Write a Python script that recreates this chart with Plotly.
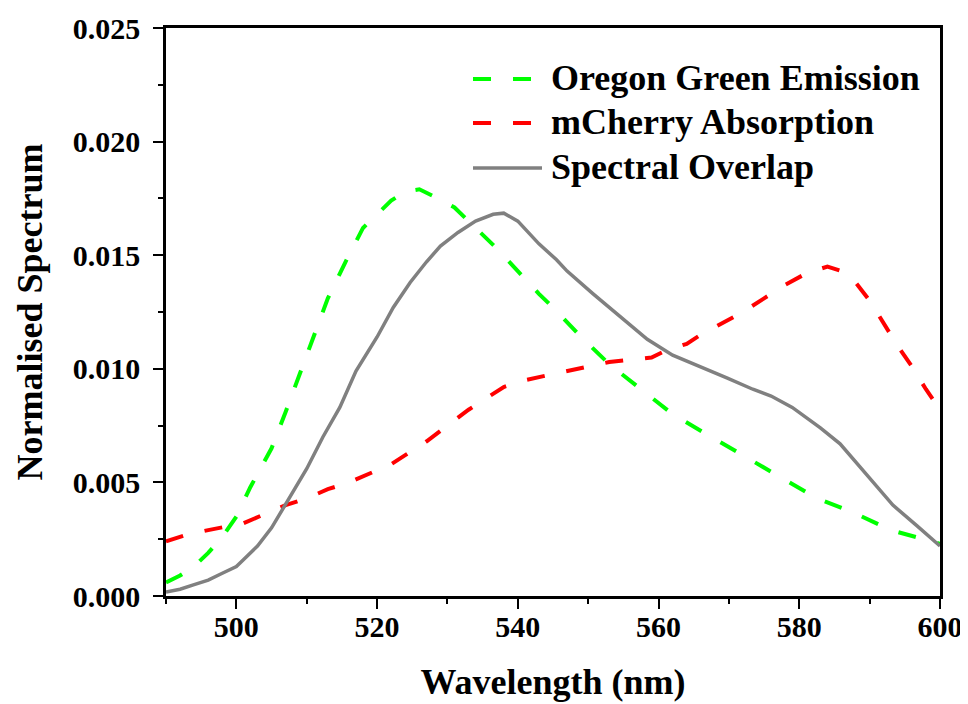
import plotly.graph_objects as go

# ---------------- data ----------------
green_wl = [490, 492, 494, 496, 498, 500, 502, 505, 507, 509, 511, 513, 515.5, 518, 520, 522, 524, 526,
            528, 531, 533, 535, 537, 540, 543, 545, 549, 553, 558, 562, 567.5, 572.5, 577.5, 582.5,
            587.5, 593, 600]
green_val = [0.0006, 0.0009, 0.0013, 0.0019, 0.0026, 0.0035, 0.0048, 0.0065, 0.0081, 0.0098, 0.0115,
             0.0131, 0.0147, 0.0162, 0.0168, 0.0174, 0.0178, 0.0179, 0.0176, 0.0171, 0.0165, 0.0159,
             0.0153, 0.0143, 0.0133, 0.0127, 0.0114, 0.0102, 0.0090, 0.0080, 0.0070, 0.0061, 0.0052,
             0.0043, 0.0037, 0.0029, 0.0023]

red_wl = [490, 493, 496, 499, 501, 504, 507, 510, 513, 516, 519, 522, 524, 527, 530, 533, 536, 538,
          541, 544, 547, 550, 553, 556, 559, 561, 564, 566, 569, 572, 575, 578, 581, 584, 586, 588,
          590, 592, 594, 596, 598, 600]
red_val = [0.0024, 0.0027, 0.0029, 0.0031, 0.0032, 0.0036, 0.0040, 0.0043, 0.0047, 0.0050, 0.0054,
           0.0058, 0.0062, 0.0068, 0.0075, 0.0082, 0.0088, 0.0092, 0.0095, 0.0097, 0.0099, 0.0101,
           0.0103, 0.0104, 0.0105, 0.0108, 0.0111, 0.0115, 0.0120, 0.0125, 0.0131, 0.0137, 0.0142,
           0.0145, 0.0143, 0.0138, 0.0130, 0.0120, 0.0110, 0.0101, 0.0091, 0.0082]

gray_wl = [490, 492, 494, 496, 498, 500, 501, 503, 505, 507.5, 510, 512.3, 514.7, 517, 520, 522.3,
           524.7, 527, 529, 531.5, 534, 536.5, 538, 540, 543, 545.5, 547, 550.7, 554.5, 558.4, 562,
           566, 569.7, 573.4, 576, 579, 583, 585.8, 588.6, 591, 593.3, 596.7, 600]
gray_val = [0.00018, 0.0003, 0.0005, 0.0007, 0.0010, 0.0013, 0.0016, 0.0022, 0.0030, 0.0043, 0.0056,
            0.0070, 0.0083, 0.0099, 0.0114, 0.0127, 0.0138, 0.0147, 0.0154, 0.0160, 0.0165, 0.0168,
            0.01685, 0.0165, 0.0155, 0.0148, 0.0143, 0.0133, 0.0123, 0.0113, 0.0106, 0.0101, 0.0096,
            0.0091, 0.0088, 0.0083, 0.0074, 0.0067, 0.0057, 0.0048, 0.0040, 0.0031, 0.0022]

series_names = ["Oregon Green Emission", "mCherry Absorption", "Spectral Overlap"]
x_ticks = [500, 520, 540, 560, 580, 600]
y_ticks = [0.000, 0.005, 0.010, 0.015, 0.020, 0.025]

# ---------------- figure ----------------
FONT = "Liberation Serif, Times New Roman, serif"
GREEN, RED, GRAY = "#00ff00", "#ff0000", "#808080"
DASH = "18px,22px"

# the page body adds an 8px margin; figure is sized so the plot lands where the reference has it
OFF = 8
W, H = 968 - OFF, 704 - OFF
L, R, T, B = 166 - OFF, 28, 28 - OFF, 108
pw, ph = W - L - R, H - T - B

def px_x(px):  # page pixel -> paper fraction
    return (px - OFF - L) / pw

def px_y(py):
    return (H - B - (py - OFF)) / ph

fig = go.Figure()
fig.add_trace(go.Scatter(x=green_wl, y=green_val, mode="lines", name=series_names[0],
                         line=dict(color=GREEN, width=4, dash=DASH), showlegend=False))
fig.add_trace(go.Scatter(x=red_wl, y=red_val, mode="lines", name=series_names[1],
                         line=dict(color=RED, width=4, dash=DASH), showlegend=False))
fig.add_trace(go.Scatter(x=gray_wl, y=gray_val, mode="lines", name=series_names[2],
                         line=dict(color=GRAY, width=3.5), showlegend=False))

# custom legend
rows_y = [79, 123, 168]
styles = [(GREEN, DASH, 4), (RED, DASH, 4), (GRAY, "solid", 3.5)]
shapes = []
annotations = []
for name, ry, (c, d, w) in zip(series_names, rows_y, styles):
    shapes.append(dict(type="line", xref="paper", yref="paper",
                       x0=px_x(473), x1=px_x(542), y0=px_y(ry), y1=px_y(ry),
                       line=dict(color=c, width=w, dash=d)))
    annotations.append(dict(xref="paper", yref="paper", x=px_x(549), y=px_y(ry - 1),
                            xanchor="left", yanchor="middle", showarrow=False, text=name,
                            font=dict(family=FONT, size=36, color="black", weight="bold")))

axis_common = dict(showline=True, linecolor="black", linewidth=2.5, mirror=True,
                   ticks="outside", ticklen=10, tickwidth=2, tickcolor="black",
                   showgrid=False, zeroline=False, automargin=False,
                   tickfont=dict(family=FONT, size=30, color="black", weight="bold"))

fig.update_layout(
    width=W, height=H,
    margin=dict(l=L, r=R, t=T, b=B, autoexpand=False),
    plot_bgcolor="white", paper_bgcolor="white",
    shapes=shapes, annotations=annotations,
    xaxis=dict(range=[490, 600], tickvals=x_ticks, ticklabelstandoff=-8,
               minor=dict(dtick=10, tick0=490, ticklen=5, tickwidth=2, tickcolor="black", ticks="outside"),
               title=dict(text="Wavelength (nm)", standoff=28,
                          font=dict(family=FONT, size=36, color="black", weight="bold")),
               **axis_common),
    yaxis=dict(range=[0, 0.025], tickvals=y_ticks, tickformat=".3f", ticklabelstandoff=7,
               minor=dict(dtick=0.0025, tick0=0, ticklen=5, tickwidth=2, tickcolor="black", ticks="outside"),
               title=dict(text="Normalised Spectrum", standoff=20,
                          font=dict(family=FONT, size=36, color="black", weight="bold")),
               **axis_common),
)

fig.write_html("out.html")
